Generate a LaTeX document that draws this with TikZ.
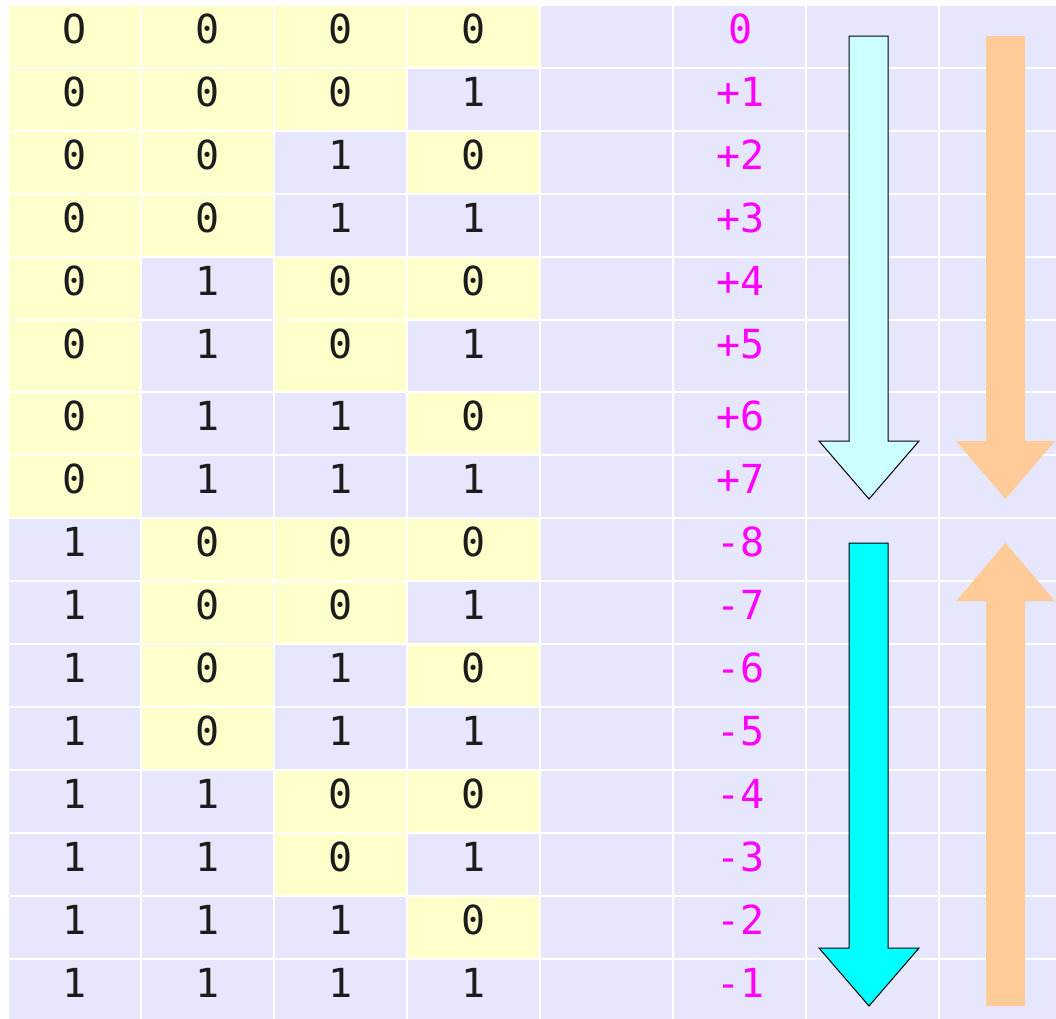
\documentclass[tikz,border=0pt]{standalone}
\usepackage{fontspec}
\newfontfamily\monof{DejaVu Sans Mono}
\definecolor{lav}{HTML}{E6E6FC}
\definecolor{yel}{HTML}{FFFFCC}
\definecolor{txt}{HTML}{1C1C1C}
\definecolor{mag}{HTML}{FF00FF}
\definecolor{lcyan}{HTML}{CCFFFF}
\definecolor{pcyan}{HTML}{00FFFF}
\definecolor{orng}{HTML}{FFCC99}
\tikzset{
  bitlbl/.style={anchor=base, inner sep=0pt, font=\monof\fontsize{40}{40}\selectfont, text=txt},
  vallbl/.style={anchor=base, inner sep=0pt, font=\monof\fontsize{40}{40}\selectfont, text=mag},
  outlinedarrow/.style={draw=black, line width=1pt, line join=miter},
  plainarrow/.style={fill=orng, draw=none}
}
\begin{document}
\begin{tikzpicture}[x=1pt,y=-1pt]
\useasboundingbox (0,0) rectangle (1056,1018);
\begin{scope}
\clip (0,0) rectangle (1056,1018);
\fill[white] (0,0) rectangle (1056,1018);
\foreach \r/\t/\b in {0/5/68, 1/68/131, 2/131/194, 3/194/257, 4/257/320, 5/320/392, 6/392/455, 7/455/518, 8/518/581, 9/581/644, 10/644/707, 11/707/770, 12/770/833, 13/833/896, 14/896/959, 15/959/1022}{
  \foreach \c/\xa/\xb in {0/8/141, 1/141/274, 2/274/407, 3/407/540, 4/540/673, 5/673/806, 6/806/939, 7/939/1072}{
    \ifnum\c<4
      \pgfmathtruncatemacro{\bit}{mod(floor(\r/(2^(3-\c))),2)}
    \else
      \def\bit{1}
    \fi
    \ifnum\bit=0
      \fill[yel] (\xa+1,\t+1) rectangle (\xb-1,\b-1);
    \else
      \fill[lav] (\xa+1,\t+1) rectangle (\xb-1,\b-1);
    \fi
  }
}
\foreach \r/\t/\v in {0/5/0, 1/68/+1, 2/131/+2, 3/194/+3, 4/257/+4, 5/320/+5, 6/392/+6, 7/455/+7, 8/518/-8, 9/581/-7, 10/644/-6, 11/707/-5, 12/770/-4, 13/833/-3, 14/896/-2, 15/959/-1}{
  \foreach \c/\xm in {0/74.5, 1/207.5, 2/340.5, 3/473.5}{
    \pgfmathtruncatemacro{\bit}{mod(floor(\r/(2^(3-\c))),2)}
    \ifnum\r=0 \ifnum\c=0 \def\bit{O}\fi\fi
    \node[bitlbl] (b-\r-\c) at (\xm,\t+38) {\bit};
  }
  \node[vallbl] (v-\r) at (740.5,\t+38) {\v};
}
% arrows
\filldraw[outlinedarrow, fill=lcyan] (849,36) -- (888,36) -- (888,441) -- (919,441) -- (869,499) -- (819,441) -- (849,441) -- cycle;
\filldraw[outlinedarrow, fill=pcyan] (849,543) -- (888,543) -- (888,948) -- (919,948) -- (869,1006) -- (819,948) -- (849,948) -- cycle;
\fill[plainarrow] (986,36) -- (1025,36) -- (1025,441) -- (1055,441) -- (1005.5,499) -- (956,441) -- (986,441) -- cycle;
\fill[plainarrow] (986,1006) -- (1025,1006) -- (1025,601) -- (1055,601) -- (1005.5,543) -- (956,601) -- (986,601) -- cycle;
\end{scope}
\end{tikzpicture}
\end{document}
